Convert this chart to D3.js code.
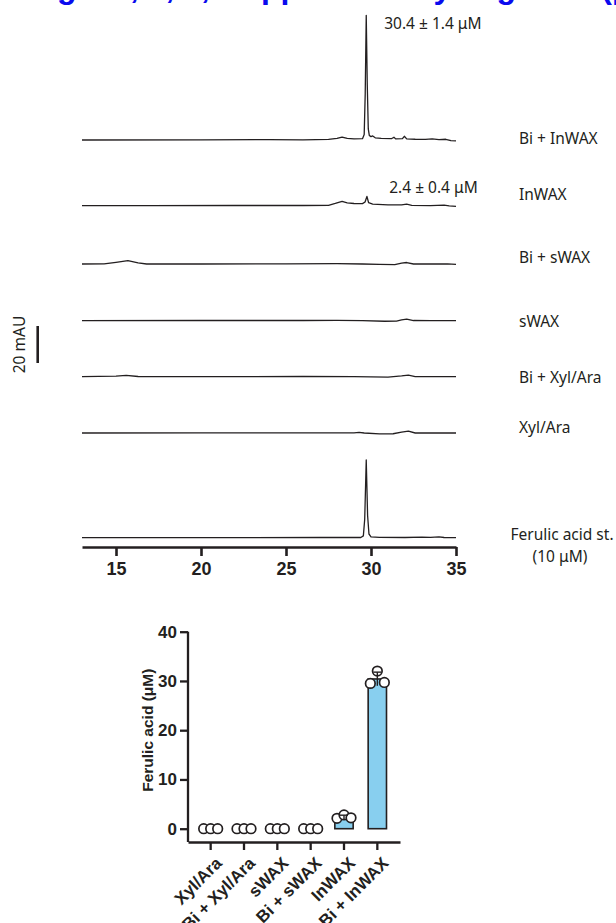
<!DOCTYPE html>
<meta charset="utf-8">
<head>
  <title>Ferulic acid release</title>
</head>

<style>
  body { margin: 0; background: #fff; }
  svg { display: block; }
  .lbl { font-family: "Noto Sans", sans-serif; font-size: 15.5px; fill: #231f20; }
  .bold { font-family: "Liberation Sans", Arial, sans-serif; font-weight: bold; fill: #231f20; }
</style>

<body>

  <div id="my_dataviz"></div>

  <script src="https://d3js.org/d3.v7.min.js"></script>
  <script>

  // chromatogram traces: [retention time (min), absorbance above baseline (mAU)]
  var traceBiInWAX = [[13, 0], [20, 0.1], [24, 0.2], [26, 0.1], [27.5, 0.3], [28.0, 0.9], [28.3, 1.6], [28.6, 0.9],
    [29.0, 0.6], [29.5, 0.7], [29.6, 3], [29.66, 25], [29.72, 67.4], [29.78, 30], [29.84, 6], [29.9, 2.5],
    [30.0, 1.8], [30.1, 2.2], [30.25, 1.2], [30.6, 0.9], [31.2, 0.7], [31.35, 1.5], [31.45, 0.6], [31.85, 0.7],
    [31.96, 2.0], [32.1, 0.6], [32.6, 0.4], [33.2, 0.3], [33.6, 0.6], [34.0, 0.2], [34.4, 0.4], [34.7, -0.3], [35, -0.5]];
  var traceInWAX = [[13, 0], [17, 0], [22, 0.1], [26, 0.1], [27.5, 0.2], [27.9, 1.2], [28.3, 2.3], [28.6, 1.5],
    [29.0, 1.2], [29.5, 1.1], [29.65, 2.0], [29.76, 5.0], [29.86, 1.6], [30.1, 0.9], [31.0, 0.4], [31.8, 0.4],
    [32.1, 0.8], [32.4, 0.2], [33.5, 0], [34.3, 0.3], [34.6, -0.1], [35, -0.4]];
  var traceBiSWAX = [[13, 0], [14.3, 0.1], [15.0, 0.9], [15.7, 1.8], [16.3, 0.6], [16.8, 0], [20, 0], [25, 0.1],
    [28, 0.2], [29.5, 0], [30.5, -0.2], [31.4, -0.3], [31.8, 0.5], [32.1, 0.8], [32.5, 0], [33.5, 0], [34.5, 0.1], [35, -0.2]];
  var traceSWAX = [[13, 0], [20, 0.1], [26, 0.1], [28, 0.2], [29.5, 0], [30.8, -0.3], [31.5, -0.2], [31.8, 0.5],
    [32.1, 0.9], [32.5, 0.1], [33.5, 0], [35, 0]];
  var traceBiXylAra = [[13, 0], [15, 0.3], [15.6, 0.7], [16.3, 0.1], [20, 0], [26, 0.1], [29, 0], [31, -0.2],
    [31.8, 0.4], [32.2, 0.8], [32.6, 0], [35, 0]];
  var traceXylAra = [[13, 0], [20, 0.1], [27, 0.1], [29.0, 0.1], [29.3, 0.3], [29.6, 0], [30.5, -0.5], [31.3, -0.4],
    [31.8, 0.5], [32.2, 1.0], [32.6, 0], [35, 0]];
  var traceFerulicStd = [[13, 0], [20, 0], [27, 0.1], [29.4, 0.1], [29.55, 1], [29.63, 10], [29.72, 42], [29.8, 12],
    [29.88, 2], [30.0, 0.5], [30.5, 0.2], [32, 0.1], [33, 0.3], [33.5, 0.2], [34, 0.5], [34.3, 0.1], [35, 0]];

  var traces = [traceBiInWAX, traceInWAX, traceBiSWAX, traceSWAX, traceBiXylAra, traceXylAra, traceFerulicStd];
  var traceLabels = [["Bi + InWAX"], ["InWAX"], ["Bi + sWAX"], ["sWAX"], ["Bi + Xyl/Ara"], ["Xyl/Ara"],
    ["Ferulic acid st.", "(10 μM)"]];
  var peakNotes = ["30.4 ± 1.4 μM", "2.4 ± 0.4 μM"];
  var timeTicks = [15, 20, 25, 30, 35];
  var scaleBarMAU = 20;

  // bar chart: ferulic acid released, three replicates per sample
  var barCategories = ["Xyl/Ara", "Bi + Xyl/Ara", "sWAX", "Bi + sWAX", "InWAX", "Bi + InWAX"];
  var barReplicates = [[0, 0, 0], [0, 0, 0], [0, 0, 0], [0, 0, 0], [2.1, 2.8, 2.2], [29.5, 32.0, 29.7]];
  var concTicks = [0, 10, 20, 30, 40];

  // heading words (only their lower edge shows in the picture)
  var headingParts = ["Figs. 2, 3, 4,", "Supplementary", "Figure 3 (part"];

  // layout
  var W = 616, H = 923;
  var rowBaseY = [140, 205.7, 264, 320.7, 376.7, 433, 537.7];
  var labelDy = [-2, -12, -7, 0, 0, -6, -4];
  var mauPx = 37;   // pixel height of 20 mAU
  var timeAxisY = 547;

  var svg = d3.select("#my_dataviz")
    .append("svg")
      .attr("width", W)
      .attr("height", H);

  // blue heading, mostly cut off by the top edge
  var title = svg.append("g")
      .attr("fill", "#0a0aee")
      .style("font-family", "'Liberation Sans', Arial, sans-serif")
      .style("font-weight", "bold")
      .style("font-size", "32px");
  title.append("text").attr("x", 210).attr("y", -2).attr("text-anchor", "end").text(headingParts[0]);
  title.append("text").attr("x", 220).attr("y", -2).text(headingParts[1]);
  title.append("text").attr("x", 468).attr("y", -2).text(headingParts[2]);

  // ---- chromatograms ----
  var xTime = d3.scaleLinear()
      .domain([13, 35])
      .range([82, 456]);

  var chrom = svg.append("g");

  traces.forEach(function(tr, i) {
    var yRow = d3.scaleLinear()
        .domain([0, scaleBarMAU])
        .range([rowBaseY[i], rowBaseY[i] - mauPx]);
    chrom.append("path")
        .datum(tr)
        .attr("fill", "none")
        .attr("stroke", "#231f20")
        .attr("stroke-width", 1.3)
        .attr("stroke-linejoin", "round")
        .attr("d", d3.line()
          .x(function(d) { return xTime(d[0]); })
          .y(function(d) { return yRow(d[1]); }));

    var lines = traceLabels[i];
    var lab = chrom.append("text")
        .attr("class", "lbl")
        .attr("dominant-baseline", "central");
    if (lines.length === 1) {
      lab.attr("x", 519).attr("y", rowBaseY[i] + labelDy[i]).text(lines[0]);
    } else {
      lab.attr("text-anchor", "middle");
      lines.forEach(function(s, k) {
        lab.append("tspan").attr("x", 562 - k * 2).attr("y", rowBaseY[i] + labelDy[i] + k * 22.7).text(s);
      });
    }
  });

  // peak quantities
  chrom.append("text").attr("class", "lbl").attr("dominant-baseline", "central")
      .attr("x", xTime(29.72) + 18).attr("y", 23).text(peakNotes[0]);
  chrom.append("text").attr("class", "lbl").attr("dominant-baseline", "central")
      .attr("x", xTime(29.72) + 23).attr("y", rowBaseY[1] - 19).text(peakNotes[1]);

  // time axis
  var tAxis = svg.append("g")
      .attr("transform", "translate(0," + timeAxisY + ")")
      .call(d3.axisBottom(xTime).tickValues(timeTicks).tickSize(9).tickPadding(6).tickSizeOuter(0));
  tAxis.selectAll("path, line").attr("stroke", "#231f20").attr("stroke-width", 2.6);
  tAxis.selectAll("text")
      .attr("class", "bold")
      .style("font-size", "18px");

  // 20 mAU scale bar
  var yBarScale = d3.scaleLinear().domain([0, scaleBarMAU]).range([363, 363 - mauPx]);
  svg.append("line")
      .attr("x1", 37.7).attr("x2", 37.7)
      .attr("y1", yBarScale(0)).attr("y2", yBarScale(scaleBarMAU))
      .attr("stroke", "#231f20")
      .attr("stroke-width", 2.6);
  svg.append("text")
      .attr("class", "lbl")
      .attr("text-anchor", "middle")
      .attr("dominant-baseline", "central")
      .attr("transform", "translate(19," + yBarScale(scaleBarMAU / 2) + ") rotate(-90)")
      .text(scaleBarMAU + " mAU");

  // ---- bar chart ----
  var catAxisY = 842;
  var xCat = d3.scaleBand()
      .domain(barCategories)
      .range([188, 400])
      .paddingInner(0.45)
      .paddingOuter(0.405);
  var yConc = d3.scaleLinear()
      .domain([0, 40])
      .range([828.7, 631.7]);

  var bars = svg.append("g");

  var stats = barCategories.map(function(c, i) {
    var v = barReplicates[i];
    return { cat: c, vals: v, mean: d3.mean(v), sd: d3.deviation(v) || 0 };
  });

  bars.selectAll("rect")
      .data(stats)
      .enter()
      .append("rect")
        .attr("x", function(d) { return xCat(d.cat); })
        .attr("y", function(d) { return yConc(d.mean); })
        .attr("width", xCat.bandwidth())
        .attr("height", function(d) { return yConc(0) - yConc(d.mean); })
        .style("fill", "#88cfef")
        .style("stroke", "#231f20")
        .style("stroke-width", 1.6);

  // replicate points
  stats.forEach(function(d) {
    var cx = xCat(d.cat) + xCat.bandwidth() / 2;
    bars.selectAll(null)
        .data(d.vals)
        .enter()
        .append("circle")
          .attr("cx", function(v, j) { return cx + (j - 1) * 7; })
          .attr("cy", function(v) { return yConc(v); })
          .attr("r", 4.8)
          .style("fill", "#fff")
          .style("stroke", "#231f20")
          .style("stroke-width", 1.7);
  });

  // error bars (mean ± SD)
  stats.filter(function(d) { return d.sd > 0; }).forEach(function(d) {
    var cx = xCat(d.cat) + xCat.bandwidth() / 2;
    var eb = bars.append("g").attr("stroke", "#231f20").attr("stroke-width", 1.4);
    eb.append("line").attr("x1", cx).attr("x2", cx)
        .attr("y1", yConc(d.mean - d.sd)).attr("y2", yConc(d.mean + d.sd));
    eb.append("line").attr("x1", cx - 4).attr("x2", cx + 4)
        .attr("y1", yConc(d.mean + d.sd)).attr("y2", yConc(d.mean + d.sd));
  });

  // y axis
  var yAx = svg.append("g")
      .attr("transform", "translate(188,0)")
      .call(d3.axisLeft(yConc).tickValues(concTicks).tickSize(8).tickPadding(3));
  yAx.select(".domain").remove();
  yAx.append("line")
      .attr("y1", yConc(40)).attr("y2", catAxisY);
  yAx.selectAll("line").attr("stroke", "#231f20").attr("stroke-width", 2.3);
  yAx.selectAll("text").attr("class", "bold").style("font-size", "17px");

  svg.append("text")
      .attr("class", "bold")
      .style("font-size", "15.5px")
      .attr("text-anchor", "middle")
      .attr("dominant-baseline", "central")
      .attr("transform", "translate(147," + yConc(20) + ") rotate(-90)")
      .text("Ferulic acid (μM)");

  // x axis with slanted sample names
  var xAx = svg.append("g")
      .attr("transform", "translate(0," + catAxisY + ")")
      .call(d3.axisBottom(xCat).tickSize(8).tickSizeOuter(0));
  xAx.selectAll("path, line").attr("stroke", "#231f20").attr("stroke-width", 2.3);
  xAx.selectAll("text")
      .attr("class", "bold")
      .style("font-size", "17px")
      .attr("x", 0).attr("y", 0).attr("dy", "0.35em")
      .attr("transform", "translate(8,18) rotate(-45)")
      .style("text-anchor", "end");

  </script>
</body>
</html>
